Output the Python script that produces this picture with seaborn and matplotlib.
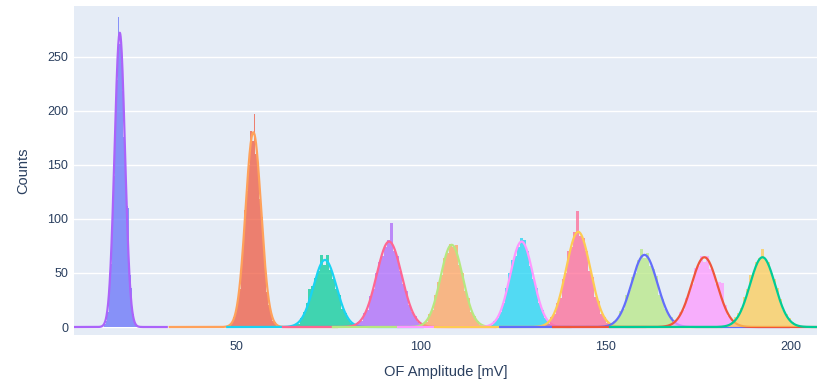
import numpy as np
import pandas as pd
import seaborn as sns
import matplotlib
matplotlib.use("Agg")
import matplotlib.pyplot as plt

# histogram bins: left edge of first bin, bin width, counts per bin
bin_start = [14.4, 47.75, 64.0, 80.4, 97.2, 116.4, 131.6, 148.8, 165.0, 180.7]
bin_width = [0.4, 0.5, 0.8, 0.8, 0.8, 0.8, 0.8, 0.8, 0.8, 0.8]
counts = [
    [3, 6, 14, 30, 58, 95, 140, 192, 228, 287, 262, 244, 218, 176, 150, 112, 110, 48, 36, 12, 5, 2],
    [1, 2, 4, 9, 14, 26, 35, 60, 75, 108, 126, 150, 181, 172, 197, 160, 150, 118, 102, 70, 55, 32, 20, 14, 6, 5, 1, 1],
    [0, 1, 2, 3, 8, 14, 22, 35, 38, 45, 52, 67, 57, 67, 53, 44, 35, 30, 17, 13, 7, 4, 2, 1, 1],
    [1, 0, 2, 5, 6, 13, 16, 29, 35, 50, 60, 66, 74, 80, 96, 70, 66, 52, 40, 33, 20, 14, 10, 5, 3, 2, 1, 0],
    [0, 0, 1, 1, 4, 5, 12, 16, 30, 42, 48, 64, 68, 77, 74, 76, 57, 50, 33, 27, 14, 10, 6, 2, 2, 1, 0, 0],
    [0, 1, 2, 2, 6, 8, 14, 22, 36, 50, 62, 66, 74, 82, 80, 70, 56, 44, 36, 22, 16, 8, 6, 2, 2, 1, 0],
    [1, 0, 2, 3, 9, 12, 22, 27, 44, 50, 70, 74, 88, 107, 84, 82, 70, 52, 46, 28, 24, 12, 9, 4, 3, 1, 1, 0],
    [0, 1, 1, 3, 6, 7, 15, 17, 30, 34, 46, 50, 62, 72, 64, 68, 56, 54, 47, 30, 26, 17, 12, 9, 4, 3, 1, 1, 0],
    [0, 1, 2, 2, 6, 7, 14, 16, 27, 33, 40, 55, 56, 66, 60, 66, 54, 50, 40, 42, 41, 20, 10, 7, 4, 2, 1, 1, 0],
    [0, 1, 1, 3, 5, 9, 13, 18, 28, 35, 48, 50, 60, 64, 72, 62, 60, 50, 44, 36, 26, 16, 12, 8, 5, 2, 1, 1, 0],
]

# gaussian fit results per peak
fit_mean = [18.6, 54.7, 74.05, 91.4, 108.3, 127.2, 142.5, 160.4, 176.6, 192.3]
fit_sigma = [1.4, 2.1, 3.1, 3.4, 3.0, 3.1, 3.3, 3.5, 3.5, 3.4]
fit_amp = [272, 180, 62, 79, 76, 79, 88, 66.7, 64.5, 64.5]
fit_half_range = [12.7, 22.6, 26.4, 28.7, 32.1, 33.4, 38.7, 39.0, 40.9, 41.2]

colorway = ["#636EFA", "#EF553B", "#00CC96", "#AB63FA", "#FFA15A",
            "#19D3F3", "#FF6692", "#B6E880", "#FF97FF", "#FECB52"]

plt.rcParams['font.family'] = ['Liberation Sans', 'DejaVu Sans']
fig = plt.figure(figsize=(8.21, 3.82), dpi=100)
ax = fig.add_axes([0.090, 0.123, 0.905, 0.862])
ax.set_facecolor("#E5ECF6")

# draw in trace order: histogram, then its fit, so later traces sit on top
for i in range(len(counts)):
    n = len(counts[i])
    edges = bin_start[i] + bin_width[i] * np.arange(n + 1)
    df = pd.DataFrame({"amp": (edges[:-1] + edges[1:]) / 2, "n": counts[i]})
    sns.histplot(data=df, x="amp", weights="n", bins=list(edges), color=colorway[i],
                 alpha=0.72, linewidth=0, ax=ax, zorder=2 + 2 * i)
    xs = np.linspace(fit_mean[i] - fit_half_range[i], fit_mean[i] + fit_half_range[i], 600)
    ys = fit_amp[i] * np.exp(-(xs - fit_mean[i]) ** 2 / (2 * fit_sigma[i] ** 2))
    sns.lineplot(x=xs, y=ys, color=colorway[(i + 3) % 10], linewidth=1.6, ax=ax,
                 zorder=3 + 2 * i)

ax.set_xlim(6.2, 207)
ax.set_ylim(-7.4, 297)
ax.set_xticks([50, 100, 150, 200])
ax.set_yticks([0, 50, 100, 150, 200, 250])
ax.grid(axis='y', color='white', linewidth=1, zorder=0)
ax.grid(axis='x', visible=False)
ax.set_axisbelow(True)
for s in ax.spines.values():
    s.set_visible(False)
ax.tick_params(length=0, labelsize=9, colors="#2a3f5f", pad=4)
ax.set_xlabel("OF Amplitude [mV]", fontsize=10.5, color="#2a3f5f", labelpad=9)
ax.set_ylabel("Counts", fontsize=10.5, color="#2a3f5f", labelpad=12)

fig.savefig("out.png", dpi=100)
